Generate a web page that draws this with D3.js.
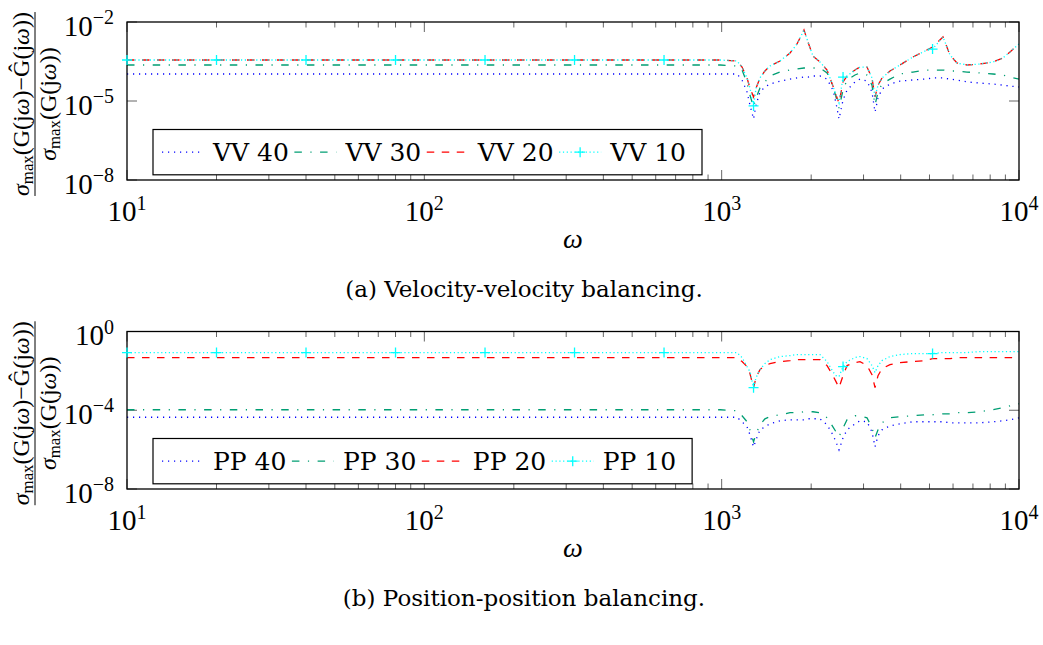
<!DOCTYPE html>
<html>
<head>
<meta charset="utf-8">
<script src="https://cdn.jsdelivr.net/npm/d3@7"></script>
<style>
  body { margin: 0; background: #fff; }
  svg { display: block; }
</style>
</head>
<body>
<svg id="chart" width="1043" height="645"></svg>
<script>
// Frequency grid (rad/s) shared by every curve
const omega = [10, 20, 40, 80, 160, 320, 640, 990, 1126, 1171, 1217, 1245, 1280, 1305, 1345, 1398, 1454, 1571, 1698, 1792, 1892, 1951, 2028, 2141, 2262, 2367, 2424, 2481, 2560, 2640, 2808, 2919, 3082, 3203, 3279, 3356, 3462, 3682, 3979, 4399, 4829, 5120, 5551, 5861, 6185, 6684, 7392, 8175, 8832, 9328, 10000];

// Relative error, velocity-velocity balancing (reduced orders 40, 30, 20, 10)
const vv40 = [1.06e-4, 1.06e-4, 1.06e-4, 1.06e-4, 1.06e-4, 1.06e-4, 1.06e-4, 1.06e-4, 1.06e-4, 6.3e-5, 2.2e-5, 7.0e-6, 2.07e-6, 7.0e-6, 2.2e-5, 3.4e-5, 4.4e-5, 5.7e-5, 6.8e-5, 7.5e-5, 8.1e-5, 8.1e-5, 8.9e-5, 8.9e-5, 6.8e-5, 2.6e-5, 8.4e-6, 2.07e-6, 1.09e-5, 2.6e-5, 5.3e-5, 6.8e-5, 5.7e-5, 2.2e-5, 3.8e-6, 1.3e-5, 2.85e-5, 4.4e-5, 5.7e-5, 6.3e-5, 6.8e-5, 7.5e-5, 7.5e-5, 6.8e-5, 6.3e-5, 5.3e-5, 4.8e-5, 4.4e-5, 4.0e-5, 3.7e-5, 3.4e-5];
const vv30 = [2.33e-4, 2.33e-4, 2.33e-4, 2.33e-4, 2.33e-4, 2.33e-4, 2.33e-4, 2.33e-4, 2.13e-4, 1.5e-4, 4.8e-5, 1.69e-5, 5.9e-6, 1.3e-5, 3.1e-5, 5.3e-5, 8.9e-5, 1.26e-4, 1.5e-4, 1.64e-4, 1.79e-4, 1.79e-4, 1.79e-4, 1.79e-4, 1.16e-4, 3.7e-5, 1.42e-5, 5.4e-6, 2.6e-5, 6.3e-5, 9.7e-5, 1.16e-4, 9.7e-5, 4.0e-5, 7.0e-6, 2.2e-5, 4.4e-5, 6.8e-5, 1.06e-4, 1.26e-4, 1.5e-4, 1.5e-4, 1.5e-4, 1.38e-4, 1.38e-4, 1.26e-4, 1.16e-4, 1.06e-4, 9.7e-5, 8.1e-5, 6.8e-5];
const vv20 = [3.6e-4, 3.6e-4, 3.6e-4, 3.6e-4, 3.6e-4, 3.6e-4, 3.6e-4, 3.6e-4, 3.3e-4, 1.95e-4, 7.5e-5, 3.1e-5, 1.42e-5, 3.1e-5, 7.5e-5, 1.38e-4, 2.13e-4, 3.3e-4, 6.65e-4, 1.46e-3, 4.97e-3, 1.74e-3, 5.1e-4, 3.03e-4, 1.5e-4, 3.7e-5, 1.69e-5, 8.4e-6, 5.3e-5, 8.9e-5, 1.5e-4, 1.95e-4, 1.95e-4, 7.5e-5, 1.42e-5, 4.0e-5, 7.5e-5, 1.38e-4, 2.33e-4, 4.69e-4, 7.9e-4, 1.12e-3, 2.69e-3, 5.58e-4, 2.77e-4, 2.33e-4, 2.54e-4, 3.03e-4, 4.3e-4, 7.3e-4, 1.46e-3];
const vv10 = [3.6e-4, 3.6e-4, 3.6e-4, 3.6e-4, 3.6e-4, 3.6e-4, 3.6e-4, 3.6e-4, 3.3e-4, 1.95e-4, 7.5e-5, 3.1e-5, 6.5e-6, 3.1e-5, 7.5e-5, 1.38e-4, 2.13e-4, 3.3e-4, 6.65e-4, 1.46e-3, 4.97e-3, 1.74e-3, 5.1e-4, 3.03e-4, 1.5e-4, 3.7e-5, 1.69e-5, 8.4e-6, 8.1e-5, 8.9e-5, 1.5e-4, 1.95e-4, 1.95e-4, 7.5e-5, 1.42e-5, 4.0e-5, 7.5e-5, 1.38e-4, 2.33e-4, 4.69e-4, 7.9e-4, 9.4e-4, 2.69e-3, 5.58e-4, 2.77e-4, 2.33e-4, 2.54e-4, 3.03e-4, 4.3e-4, 7.3e-4, 1.46e-3];

// Relative error, position-position balancing (reduced orders 40, 30, 20, 10)
const pp40 = [4.4e-5, 4.4e-5, 4.4e-5, 4.4e-5, 4.4e-5, 4.4e-5, 4.4e-5, 4.4e-5, 4.4e-5, 2.6e-5, 1.44e-5, 5.65e-6, 1.38e-6, 3.14e-6, 1.01e-5, 1.44e-5, 2.05e-5, 2.92e-5, 3.28e-5, 3.28e-5, 3.28e-5, 3.69e-5, 3.69e-5, 3.69e-5, 1.82e-5, 5.65e-6, 2.48e-6, 9.7e-7, 3.97e-6, 1.01e-5, 2.05e-5, 2.92e-5, 2.6e-5, 8.0e-6, 1.38e-6, 5.0e-6, 1.01e-5, 1.62e-5, 2.05e-5, 2.6e-5, 2.6e-5, 2.6e-5, 2.6e-5, 2.31e-5, 2.31e-5, 2.31e-5, 2.31e-5, 2.6e-5, 2.92e-5, 3.28e-5, 4.15e-5];
const pp30 = [1.06e-4, 1.06e-4, 1.06e-4, 1.06e-4, 1.06e-4, 1.06e-4, 1.06e-4, 1.06e-4, 9.4e-5, 5.25e-5, 2.6e-5, 1.01e-5, 2.48e-6, 6.35e-6, 1.82e-5, 3.69e-5, 4.67e-5, 5.9e-5, 7.5e-5, 7.5e-5, 8.4e-5, 8.4e-5, 8.4e-5, 7.5e-5, 4.15e-5, 1.44e-5, 8.0e-6, 4.47e-6, 1.28e-5, 3.28e-5, 5.25e-5, 5.25e-5, 4.15e-5, 1.28e-5, 3.97e-6, 1.01e-5, 2.31e-5, 4.15e-5, 4.67e-5, 5.25e-5, 5.9e-5, 5.9e-5, 6.6e-5, 6.6e-5, 7.5e-5, 7.5e-5, 8.4e-5, 1.06e-4, 1.34e-4, 1.69e-4, 2.14e-4];
const pp20 = [0.0473, 0.0473, 0.0473, 0.0473, 0.0473, 0.0473, 0.0473, 0.0473, 0.0473, 0.0296, 0.0165, 0.00724, 0.0014, 0.00453, 0.0116, 0.0185, 0.0234, 0.0296, 0.0333, 0.0374, 0.0374, 0.0374, 0.0374, 0.0374, 0.0185, 0.00573, 0.00283, 0.0014, 0.00573, 0.0185, 0.0263, 0.0296, 0.0185, 0.00644, 0.0014, 0.00573, 0.013, 0.0208, 0.0263, 0.0296, 0.0333, 0.0421, 0.0421, 0.0421, 0.0473, 0.0473, 0.0473, 0.0473, 0.0473, 0.0473, 0.0473];
const pp10 = [0.0851, 0.0851, 0.0851, 0.0851, 0.0851, 0.0851, 0.0851, 0.0851, 0.0851, 0.0473, 0.0165, 0.00916, 0.0014, 0.00453, 0.0116, 0.0234, 0.0374, 0.0532, 0.0598, 0.0673, 0.0673, 0.0673, 0.0673, 0.0673, 0.0296, 0.00916, 0.00573, 0.00509, 0.0165, 0.0296, 0.0473, 0.0532, 0.0421, 0.0185, 0.00814, 0.0185, 0.0333, 0.0532, 0.0673, 0.0757, 0.0757, 0.0757, 0.0851, 0.0851, 0.0851, 0.0851, 0.0957, 0.0957, 0.0957, 0.0957, 0.0957];

// Frequencies that carry a "+" marker on the order-10 curves
const markOmega = [10, 20, 40, 80, 160, 320, 640, 1280, 2560, 5120];

// Axis ticks
const xTicks = [10, 100, 1000, 10000];
const vvTicks = [1e-2, 1e-5, 1e-8];
const ppTicks = [1, 1e-4, 1e-8];

// Legend entries and captions
const vvNames = ["VV 40", "VV 30", "VV 20", "VV 10"];
const ppNames = ["PP 40", "PP 30", "PP 20", "PP 10"];
const captions = ["(a) Velocity-velocity balancing.", "(b) Position-position balancing."];

// Line styles per reduced order (40, 30, 20, 10)
const styles = [
  { color: "#0000ff", dash: "1.2,4.8", mark: false },
  { color: "#009e73", dash: "7.5,8.5,1.2,8.5", mark: false },
  { color: "#ff0000", dash: "7.5,7.5", mark: false },
  { color: "#00ffff", dash: "1.2,2.6", mark: true }
];

const svg = d3.select("#chart");
const X0 = 127, X1 = 1019;
const tickFont = "'Liberation Serif', 'DejaVu Serif', serif";
const textFont = "'DejaVu Serif', serif";

const panels = [
  { id: "vv", top: 22, bottom: 180, domain: [1e-8, 1e-2], ticks: vvTicks,
    series: [vv40, vv30, vv20, vv10], names: vvNames, caption: captions[0] },
  { id: "pp", top: 331.5, bottom: 489, domain: [1e-8, 1], ticks: ppTicks,
    series: [pp40, pp30, pp20, pp10], names: ppNames, caption: captions[1] }
];

function expText(v) {
  const e = Math.round(Math.log10(v));
  return String(e).replace("-", "\u2212");
}

function drawPlus(sel, cx, cy, r, color) {
  sel.append("path")
    .attr("d", `M${cx - r},${cy}H${cx + r}M${cx},${cy - r}V${cy + r}`)
    .attr("stroke", color).attr("stroke-width", 1.3).attr("fill", "none");
}

// sigma_max(...) expression; parts alternate upright / italic omega
function sigmaText(parent, yPos, fs, inner) {
  const t = parent.append("text").attr("x", 0).attr("y", yPos).attr("text-anchor", "middle");
  t.append("tspan").attr("font-size", fs).attr("font-style", "italic").text("\u03C3");
  t.append("tspan").attr("font-size", fs * 0.7).attr("dy", fs * 0.18).text("max");
  inner.forEach((part, i) => {
    const s = t.append("tspan").attr("font-size", fs).text(part);
    if (i === 0) s.attr("dy", -fs * 0.18);
    if (part === "\u03C9") s.attr("font-style", "italic");
  });
  return t;
}

const numParts = ["(G(j", "\u03C9", ")\u2212\u011C(j", "\u03C9", "))"];
const denParts = ["(G(j", "\u03C9", "))"];

panels.forEach(p => {
  const g = svg.append("g").attr("class", "panel-" + p.id);
  const x = d3.scaleLog().domain([10, 1e4]).range([X0, X1]);
  const y = d3.scaleLog().domain(p.domain).range([p.bottom, p.top]);

  // clip region for curves
  const clipId = "clip-" + p.id;
  g.append("clipPath").attr("id", clipId)
    .append("rect").attr("x", X0).attr("y", p.top)
    .attr("width", X1 - X0).attr("height", p.bottom - p.top);

  // x ticks (major + minor), inward on top and bottom edges
  const minor = [];
  for (let k = 1; k < 4; k++) for (let m = 2; m <= 9; m++) minor.push(m * Math.pow(10, k));
  const tickG = g.append("g").attr("stroke", "#555").attr("stroke-width", 0.9);
  minor.forEach(t => {
    const px = x(t);
    tickG.append("line").attr("x1", px).attr("x2", px).attr("y1", p.bottom).attr("y2", p.bottom - 5.5);
    tickG.append("line").attr("x1", px).attr("x2", px).attr("y1", p.top).attr("y2", p.top + 5.5);
  });
  xTicks.forEach(t => {
    const px = x(t);
    tickG.append("line").attr("x1", px).attr("x2", px).attr("y1", p.bottom).attr("y2", p.bottom - 10);
    tickG.append("line").attr("x1", px).attr("x2", px).attr("y1", p.top).attr("y2", p.top + 10);
  });
  p.ticks.forEach(t => {
    const py = y(t);
    tickG.append("line").attr("x1", X0).attr("x2", X0 + 10).attr("y1", py).attr("y2", py);
    tickG.append("line").attr("x1", X1).attr("x2", X1 - 10).attr("y1", py).attr("y2", py);
  });

  // curves
  const line = d3.line().x(d => x(d.w)).y(d => y(d.v));
  const curveG = g.append("g").attr("clip-path", `url(#${clipId})`);
  const markG = g.append("g");
  p.series.forEach((vals, i) => {
    const st = styles[i];
    const data = omega.map((w, j) => ({ w, v: vals[j] }));
    curveG.append("path").datum(data)
      .attr("d", line)
      .attr("fill", "none")
      .attr("stroke", st.color)
      .attr("stroke-width", 1.3)
      .attr("stroke-dasharray", st.dash);
    if (st.mark) {
      data.filter(d => markOmega.includes(d.w))
        .forEach(d => drawPlus(markG, x(d.w), y(d.v), 5, st.color));
    }
  });

  // frame
  g.append("rect").attr("x", X0).attr("y", p.top)
    .attr("width", X1 - X0).attr("height", p.bottom - p.top)
    .attr("fill", "none").attr("stroke", "#000").attr("stroke-width", 1.3);
  g.node().appendChild(markG.node());

  // y tick labels
  p.ticks.forEach(t => {
    const py = y(t);
    const txt = g.append("text").attr("x", 114).attr("y", py + 13.5)
      .attr("text-anchor", "end").attr("font-family", tickFont).attr("fill", "#000");
    txt.append("tspan").attr("font-size", 29).text("10");
    txt.append("tspan").attr("font-size", 20).attr("dy", -11.5).text(expText(t));
  });

  // x tick labels
  xTicks.forEach(t => {
    const txt = g.append("text").attr("x", x(t)).attr("y", p.bottom + 41)
      .attr("text-anchor", "middle").attr("font-family", tickFont).attr("fill", "#000");
    txt.append("tspan").attr("font-size", 29).text("10");
    txt.append("tspan").attr("font-size", 20).attr("dy", -11).text(expText(t));
  });

  // x axis label
  g.append("text").attr("x", (X0 + X1) / 2).attr("y", p.bottom + 68)
    .attr("text-anchor", "middle").attr("font-family", tickFont)
    .attr("font-style", "italic").attr("font-size", 28).text("\u03C9");

  // y axis label: fraction, rotated; font sized so the numerator spans 184px
  const cy = (p.top + p.bottom) / 2 + 3;
  const yl = g.append("g").attr("transform", `translate(35,${cy}) rotate(-90)`)
    .attr("font-family", tickFont).attr("fill", "#000");
  const probe = sigmaText(yl, 0, 20, numParts);
  const fs = 20 * 184 / probe.node().getComputedTextLength();
  probe.remove();
  const num = sigmaText(yl, -6.5, fs, numParts);
  sigmaText(yl, 20.5, fs, denParts);
  const numLen = num.node().getComputedTextLength();
  yl.append("line").attr("x1", -numLen / 2).attr("x2", numLen / 2)
    .attr("y1", 0).attr("y2", 0).attr("stroke", "#000").attr("stroke-width", 1);

  // legend
  const lgTop = p.bottom - 50.5, lgH = 45.3, lgLeft = 153;
  const lc = lgTop + lgH / 2;
  const lg = g.append("g");
  const box = lg.append("rect").attr("x", lgLeft).attr("y", lgTop).attr("height", lgH)
    .attr("fill", "#fff").attr("stroke", "#000").attr("stroke-width", 1.2);
  let cx = lgLeft + 9, lastEnd = cx;
  p.names.forEach((name, i) => {
    const st = styles[i];
    lg.append("line").attr("x1", cx).attr("x2", cx + 42).attr("y1", lc).attr("y2", lc)
      .attr("stroke", st.color).attr("stroke-width", 1.3).attr("stroke-dasharray", st.dash);
    if (st.mark) drawPlus(lg, cx + 21, lc, 5, st.color);
    const t = lg.append("text").attr("x", cx + 51).attr("y", lc + 9)
      .attr("font-family", textFont).attr("font-size", 25).attr("fill", "#000").text(name);
    lastEnd = cx + 51 + t.node().getComputedTextLength();
    cx = lastEnd + 5.5;
  });
  box.attr("width", lastEnd + 16 - lgLeft);

  // caption
  g.append("text").attr("x", 524).attr("y", p.bottom + 117)
    .attr("text-anchor", "middle").attr("font-family", textFont)
    .attr("font-size", 23).attr("fill", "#000").text(p.caption);
});
</script>
</body>
</html>
